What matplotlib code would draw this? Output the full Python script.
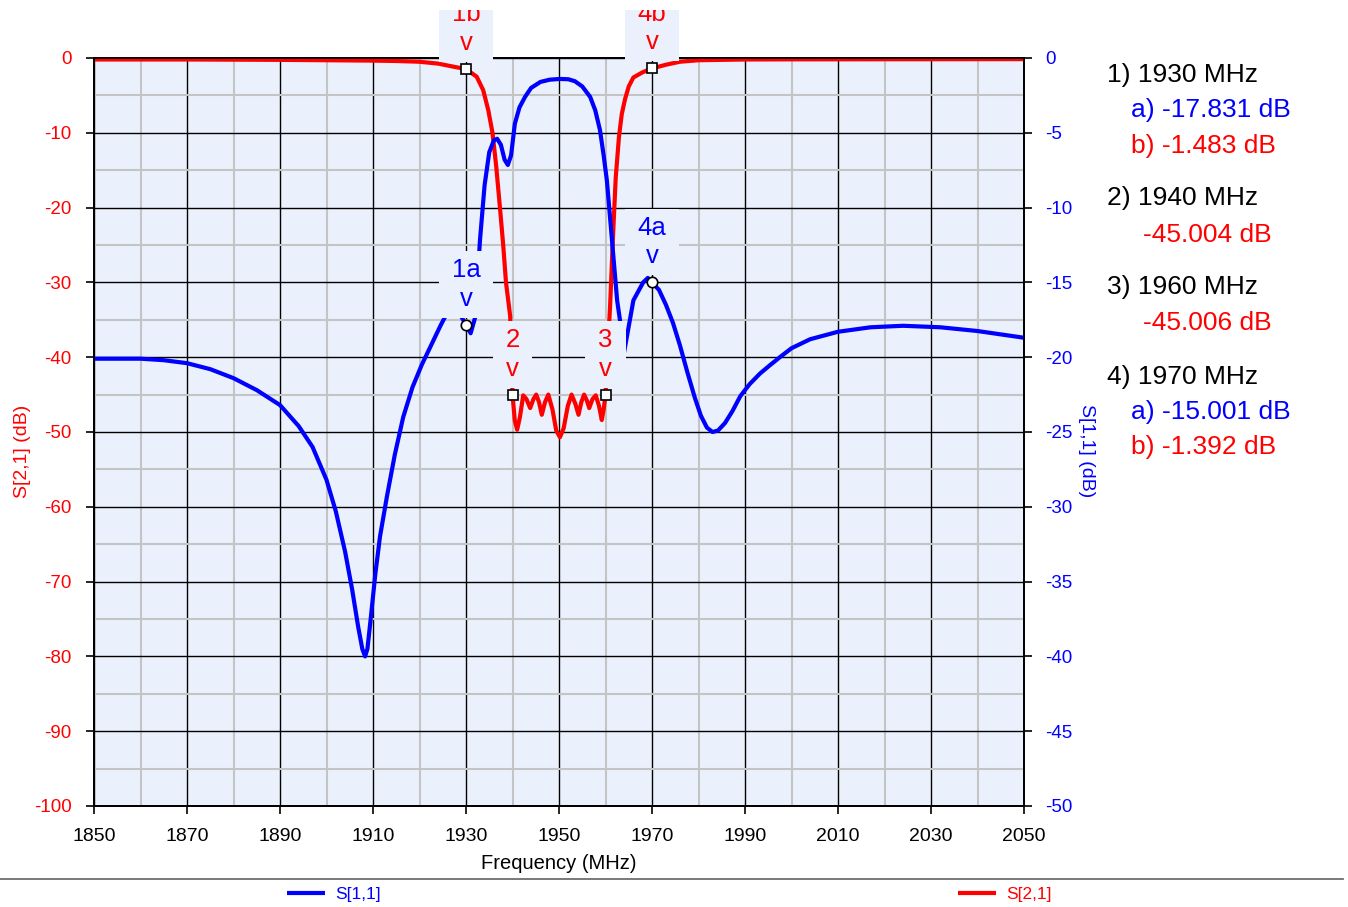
import matplotlib
matplotlib.use('Agg')
import matplotlib.pyplot as plt
from matplotlib.lines import Line2D
from matplotlib.patches import Rectangle
from matplotlib.path import Path

plt.rcParams['font.family'] = ['Liberation Sans', 'DejaVu Sans']
plt.rcParams['axes.unicode_minus'] = False

# S[2,1] (left axis, dB)
s21_freq = [1850, 1870, 1890, 1900, 1910, 1915, 1920, 1924, 1927.3, 1930,
            1932.3, 1933.7, 1934.8, 1935.7, 1936.5, 1937.3, 1938, 1938.6, 1939.5,
            1940, 1940.5, 1941, 1941.6, 1942.3, 1943.0, 1943.8, 1944.5, 1945.1,
            1945.7, 1946.3, 1947.0, 1947.7, 1948.6, 1949.4, 1950.2, 1951.0,
            1951.9, 1952.7, 1953.5, 1954.2, 1954.8, 1955.4, 1956.0, 1956.5,
            1957.2, 1957.9, 1958.6, 1959.2, 1959.6, 1960,
            1960.4, 1961, 1961.6, 1962.2, 1962.9, 1963.5, 1964.2, 1965, 1966,
            1968, 1970, 1973, 1976, 1980, 1990, 2000, 2050]
s21_db = [-0.2, -0.2, -0.25, -0.3, -0.35, -0.4, -0.5, -0.75, -1.16, -1.483,
          -2.5, -4.3, -7.0, -10.0, -14.5, -20.0, -25.0, -30.0, -34.5,
          -45.004, -48.5, -49.7, -48.0, -45.1, -45.6, -46.8, -45.6, -45.0,
          -46.0, -47.7, -46.0, -45.0, -47.0, -49.8, -50.7, -49.5,
          -46.5, -45.0, -46.2, -47.7, -46.0, -45.0, -45.8, -46.8,
          -45.6, -45.1, -46.5, -48.4, -47.0, -45.006,
          -40.0, -33.0, -24.0, -16.0, -10.5, -7.5, -5.5, -3.8, -2.6,
          -1.9, -1.392, -0.9, -0.5, -0.3, -0.2, -0.18, -0.15]

# S[1,1] (right axis, dB)
s11_freq = [1850, 1860, 1865, 1870, 1875, 1880, 1885, 1890, 1894, 1897,
            1900, 1902, 1904, 1905.5, 1906.8, 1907.7, 1908.3, 1908.8, 1909.5,
            1910.5, 1911.5, 1913, 1914.7, 1916.5, 1918.5, 1920.5, 1922.5, 1924.5,
            1926, 1927.5, 1929, 1930, 1931, 1932, 1933, 1934, 1935, 1936, 1936.7,
            1937.5, 1938.3, 1939, 1939.7, 1940.5, 1941.5, 1942.7, 1944, 1946,
            1948, 1950.2, 1952, 1953.4, 1955, 1956.7, 1957.8, 1958.8, 1959.6,
            1960.3, 1961.4, 1962.5, 1963.1, 1963.8, 1964.5, 1966, 1968.1, 1969.1,
            1970, 1971.5, 1973, 1974.5, 1976, 1977.6, 1979.2, 1980.5, 1981.8,
            1983, 1984.2, 1985.7, 1987.3, 1989, 1991, 1993.2, 1995.5, 1997.5,
            2000, 2004, 2010, 2017, 2024, 2032, 2040, 2050]
s11_db = [-20.1, -20.1, -20.2, -20.4, -20.8, -21.4, -22.2, -23.2, -24.6, -26.0,
          -28.2, -30.3, -33.0, -35.5, -38.0, -39.5, -40.0, -39.5, -37.5,
          -34.5, -32.0, -29.3, -26.5, -24.0, -22.0, -20.5, -19.2, -17.9,
          -17.0, -16.6, -17.3, -17.831, -18.4, -17.3, -12.2, -8.5, -6.3, -5.5, -5.4,
          -5.8, -6.8, -7.15, -6.5, -4.4, -3.3, -2.6, -2.0, -1.6,
          -1.45, -1.4, -1.42, -1.55, -1.9, -2.6, -3.5, -4.8, -6.5,
          -8.2, -12.2, -16.2, -17.5, -20.0, -18.8, -16.2, -15.0, -14.7,
          -15.001, -15.5, -16.5, -17.7, -19.2, -21.0, -22.7, -23.9, -24.7,
          -25.0, -24.9, -24.4, -23.6, -22.6, -21.8, -21.1, -20.5, -20.0,
          -19.4, -18.8, -18.3, -18.0, -17.9, -18.0, -18.25, -18.7]

x_ticks = [1850, 1870, 1890, 1910, 1930, 1950, 1970, 1990, 2010, 2030, 2050]
x_minor = [1860, 1880, 1900, 1920, 1940, 1960, 1980, 2000, 2020, 2040]
left_ticks = [0, -10, -20, -30, -40, -50, -60, -70, -80, -90, -100]
left_minor = [-5, -15, -25, -35, -45, -55, -65, -75, -85, -95]
right_ticks = [0, -5, -10, -15, -20, -25, -30, -35, -40, -45, -50]

# markers: (label, freq, value, trace)
markers = [('1a', 1930, -17.831, 's11'), ('1b', 1930, -1.483, 's21'),
           ('2', 1940, -45.004, 's21'), ('3', 1960, -45.006, 's21'),
           ('4a', 1970, -15.001, 's11'), ('4b', 1970, -1.392, 's21')]

readout = [('1) 1930 MHz', 'black', 0), ('a) -17.831 dB', 'blue', 1),
           ('b) -1.483 dB', 'red', 1), ('2) 1940 MHz', 'black', 0),
           ('-45.004 dB', 'red', 2), ('3) 1960 MHz', 'black', 0),
           ('-45.006 dB', 'red', 2), ('4) 1970 MHz', 'black', 0),
           ('a) -15.001 dB', 'blue', 1), ('b) -1.392 dB', 'red', 1)]
readout_y = [75, 110, 146, 198, 235, 287, 323, 377, 412, 447]

BG = '#eaf1fd'
W, H = 1348, 907


def label_box(x0, y0, width, height, mutation_size):
    # wider horizontal than vertical padding, like the marker tags
    px, py = 0.5 * mutation_size, 0.27 * mutation_size
    return Path([(x0 - px, y0 - py), (x0 + width + px, y0 - py),
                 (x0 + width + px, y0 + height + py), (x0 - px, y0 + height + py),
                 (x0 - px, y0 - py)], closed=True)


fig = plt.figure(figsize=(W / 100, H / 100), dpi=100)
ax = fig.add_axes([94 / W, 1 - 806 / H, 930 / W, 748 / H])
ax.set_facecolor(BG)
ax2 = ax.twinx()

ax.set_xlim(1850, 2050)
ax.set_ylim(-100, 0)
ax2.set_ylim(-50, 0)
ax.set_xticks(x_ticks)
ax.set_xticks(x_minor, minor=True)
ax.set_yticks(left_ticks)
ax.set_yticks(left_minor, minor=True)
ax2.set_yticks(right_ticks)

ax.set_axisbelow(True)
ax.grid(which='major', color='black', lw=1.0)
ax.grid(which='minor', color='#c4c4c4', lw=1.5)

ax.tick_params(which='major', direction='out', length=6, width=1.2, color='black')
ax.tick_params(which='minor', length=0)
ax.tick_params(axis='x', labelsize=14, pad=10, labelcolor='black')
ax.tick_params(axis='y', labelsize=13.5, pad=10, labelcolor='red')
ax2.tick_params(axis='y', direction='out', length=6, width=1.2, color='black',
                labelsize=13.5, pad=9, labelcolor='blue')

for a in (ax, ax2):
    for sp in a.spines.values():
        sp.set_color('black')
        sp.set_linewidth(1.3)

ax.set_xlabel('Frequency (MHz)', fontsize=14.5, labelpad=6)
ax.set_ylabel('S[2,1] (dB)', fontsize=14, color='red', va='center', ha='center')
ax2.set_ylabel('S[1,1] (dB)', fontsize=14, color='blue', rotation=-90,
               va='center', ha='center')
ax.yaxis.set_label_coords(-0.0774, 0.4746)
ax2.yaxis.set_label_coords(1.0677, 0.4746)

red_line, = ax.plot(s21_freq, s21_db, color='red', lw=3, zorder=3,
                    solid_capstyle='butt')
blue_line, = ax2.plot(s11_freq, s11_db, color='blue', lw=3, zorder=2,
                      solid_capstyle='butt')

for lab, f, v, tr in markers:
    if tr == 's21':
        ax.plot([f], [v], marker='s', ms=7.5, mfc='white', mec='black', mew=1.2,
                zorder=5, clip_on=False)
        xyc, col = ax.transData, 'red'
    else:
        ax2.plot([f], [v], marker='o', ms=7.5, mfc='white', mec='black', mew=1.2,
                 zorder=5)
        xyc, col = ax2.transData, 'blue'
    ax2.annotate(lab + '\nv', xy=(f, v), xycoords=xyc, xytext=(0, 14),
                 textcoords='offset pixels', ha='center', va='bottom',
                 multialignment='center', linespacing=1.25, fontsize=18.5,
                 color=col, zorder=6, annotation_clip=False,
                 bbox=dict(boxstyle=label_box, fc=BG, ec='none'))

xs = {0: 1107, 1: 1131, 2: 1143}
for (txt, col, lvl), y in zip(readout, readout_y):
    fig.text(xs[lvl] / W, 1 - y / H, txt, color=col, fontsize=19,
             ha='left', va='center')

# white strip cropping the top of the marker labels
fig.add_artist(Rectangle((0, 1 - 10 / H), 1, 10 / H, transform=fig.transFigure,
                         fc='white', ec='none', zorder=10))

# separator line and legend
fig.add_artist(Line2D([0, 1343 / W], [1 - 879 / H, 1 - 879 / H],
                      transform=fig.transFigure, color='#6e6e6e', lw=1.3))
fig.legend(handles=[blue_line], labels=['S[1,1]'], loc='center left',
           bbox_to_anchor=(287 / W, 1 - 894 / H), frameon=False, fontsize=12.5,
           labelcolor='blue', handlelength=2.2, handletextpad=0.55,
           borderaxespad=0, borderpad=0)
fig.legend(handles=[red_line], labels=['S[2,1]'], loc='center left',
           bbox_to_anchor=(958 / W, 1 - 894 / H), frameon=False, fontsize=12.5,
           labelcolor='red', handlelength=2.2, handletextpad=0.55,
           borderaxespad=0, borderpad=0)

fig.savefig('out.png', dpi=100)
